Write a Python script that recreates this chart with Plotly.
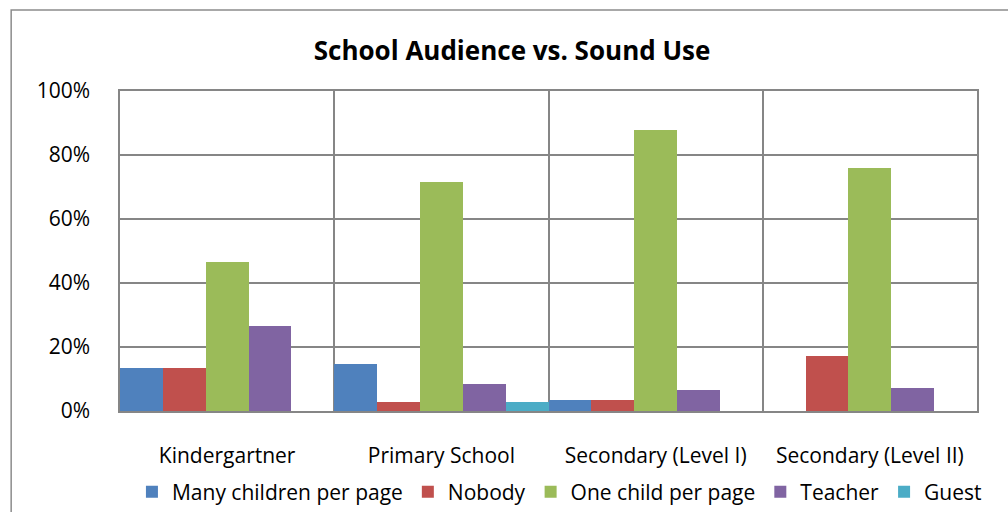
import plotly.graph_objects as go

# School levels on the category axis
categories = ["Kindergartner", "Primary School", "Secondary (Level I)", "Secondary (Level II)"]

# Share of each audience type per school level (fractions of 1)
many_children = [0.133, 0.147, 0.034, 0.0]
nobody = [0.133, 0.029, 0.034, 0.171]
one_child = [0.467, 0.716, 0.877, 0.758]
teacher = [0.267, 0.084, 0.066, 0.071]
guest = [0.0, 0.029, 0.0, 0.0]

series = [
    ("Many children per page", many_children, "#4F81BD"),
    ("Nobody", nobody, "#C0504D"),
    ("One child per page", one_child, "#9BBB59"),
    ("Teacher", teacher, "#8064A2"),
    ("Guest", guest, "#4BACC6"),
]

y_ticks = [0, 0.2, 0.4, 0.6, 0.8, 1.0]

FONT = "Open Sans"
GRID = "#868686"

fig = go.Figure()
for name, vals, color in series:
    fig.add_trace(go.Bar(
        x=categories, y=vals, name=name,
        marker=dict(color=color, line=dict(width=0)),
    ))

fig.update_layout(
    width=1008, height=512,
    margin=dict(l=120, r=31, t=91, b=101, autoexpand=False),
    paper_bgcolor="white", plot_bgcolor="white",
    barmode="group", bargap=0, bargroupgap=0,
    font=dict(family=FONT, size=21, color="black"),
    title=dict(
        text="<b>School Audience vs. Sound Use</b>",
        xref="container", x=0.508, xanchor="center",
        yref="container", y=0.9, yanchor="middle",
        font=dict(family=FONT, size=26, color="black"),
    ),
    legend=dict(
        orientation="h", xref="container", x=0.555, xanchor="center",
        yref="container", y=0.039, yanchor="middle",
        font=dict(family=FONT, size=21, color="black"),
        itemwidth=30, traceorder="normal", bgcolor="rgba(0,0,0,0)",
    ),
    showlegend=True,
)

fig.update_xaxes(
    type="category", tickson="boundaries", automargin=False,
    showgrid=True, gridcolor=GRID, gridwidth=1.5,
    showline=True, linecolor=GRID, linewidth=1.5, mirror=True,
    ticks="", ticklabelstandoff=25,
    tickfont=dict(family=FONT, size=21, color="black"),
)
fig.update_yaxes(
    range=[0, 1], tickvals=y_ticks, tickformat=".0%", automargin=False,
    showgrid=True, gridcolor=GRID, gridwidth=1.5,
    showline=True, linecolor=GRID, linewidth=1.5, mirror=True,
    ticks="", ticklabelstandoff=24, zeroline=False,
    tickfont=dict(family=FONT, size=21, color="black"),
)

# Outer chart frame (left and top edges visible, rest runs off the canvas)
fig.add_shape(
    type="rect", xref="paper", yref="paper",
    x0=-0.127, x1=1.2, y0=-0.5, y1=1.253,
    line=dict(color="#8c8c8c", width=1.5), fillcolor="rgba(0,0,0,0)",
    layer="below",
)

fig.write_html("out.html")
